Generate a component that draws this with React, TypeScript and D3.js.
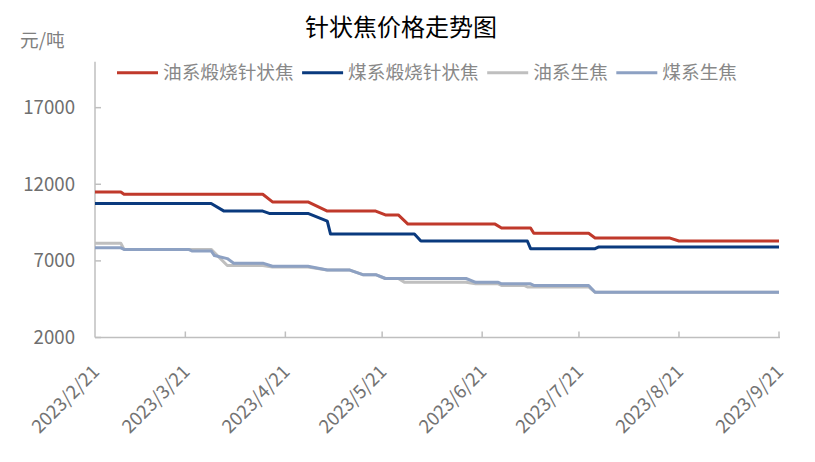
import { useEffect, useRef } from "react";
import * as d3 from "d3";

// series change points (date, price in 元/吨)
const oilNeedleDates = ["2023/2/21", "2023/3/1", "2023/3/2", "2023/4/14", "2023/4/17", "2023/4/28", "2023/5/4", "2023/5/19", "2023/5/22", "2023/5/26", "2023/5/29", "2023/6/25", "2023/6/27", "2023/7/6", "2023/7/7", "2023/7/24", "2023/7/26", "2023/8/18", "2023/8/21", "2023/9/21"];
const oilNeedleValues = [11500, 11500, 11350, 11350, 10850, 10850, 10250, 10250, 10000, 10000, 9400, 9400, 9150, 9150, 8800, 8800, 8500, 8500, 8300, 8300];

const coalNeedleDates = ["2023/2/21", "2023/3/29", "2023/4/2", "2023/4/14", "2023/4/16", "2023/4/28", "2023/5/4", "2023/5/5", "2023/5/31", "2023/6/2", "2023/7/5", "2023/7/6", "2023/7/26", "2023/7/27", "2023/9/21"];
const coalNeedleValues = [10750, 10750, 10250, 10250, 10100, 10100, 9600, 8750, 8750, 8300, 8300, 7800, 7800, 7900, 7900];

const oilGreenDates = ["2023/2/21", "2023/3/1", "2023/3/2", "2023/3/29", "2023/4/3", "2023/4/14", "2023/4/17", "2023/4/28", "2023/5/4", "2023/5/11", "2023/5/15", "2023/5/19", "2023/5/22", "2023/5/26", "2023/5/28", "2023/6/16", "2023/6/19", "2023/6/26", "2023/6/27", "2023/7/4", "2023/7/5", "2023/7/24", "2023/7/26", "2023/9/21"];
const oilGreenValues = [8150, 8150, 7750, 7750, 6700, 6700, 6600, 6600, 6400, 6400, 6100, 6100, 5850, 5850, 5600, 5600, 5500, 5500, 5400, 5400, 5300, 5300, 4950, 4950];

const coalGreenDates = ["2023/2/21", "2023/3/1", "2023/3/2", "2023/3/22", "2023/3/23", "2023/3/29", "2023/3/30", "2023/4/3", "2023/4/5", "2023/4/14", "2023/4/17", "2023/4/28", "2023/5/4", "2023/5/11", "2023/5/15", "2023/5/19", "2023/5/22", "2023/6/16", "2023/6/19", "2023/6/26", "2023/6/27", "2023/7/6", "2023/7/7", "2023/7/24", "2023/7/26", "2023/9/21"];
const coalGreenValues = [7850, 7850, 7750, 7750, 7650, 7650, 7350, 7150, 6850, 6850, 6650, 6650, 6400, 6400, 6100, 6100, 5850, 5850, 5600, 5600, 5500, 5500, 5400, 5400, 4950, 4950];

const seriesNames = ["油系煅烧针状焦", "煤系煅烧针状焦", "油系生焦", "煤系生焦"];
const seriesColors = ["#C0392B", "#0A3A7E", "#BFBFBF", "#8DA1C3"];

const xTickLabels = ["2023/2/21", "2023/3/21", "2023/4/21", "2023/5/21", "2023/6/21", "2023/7/21", "2023/8/21", "2023/9/21"];
const yTicks = [2000, 7000, 12000, 17000];

const parseDate = (s: string) => {
  const [y, m, d] = s.split("/").map(Number);
  return new Date(Date.UTC(y, m - 1, d));
};

const FONT = "'Noto Sans CJK SC', 'Noto Sans', sans-serif";

const App = () => {
  const svgRef = useRef<SVGSVGElement>(null);

  useEffect(() => {
    if (!svgRef.current) return;
    const svg = d3.select(svgRef.current);
    svg.selectAll("*").remove();

    const x = d3
      .scaleUtc()
      .domain([parseDate("2023/2/21"), parseDate("2023/9/21")])
      .range([95, 779]);
    const y = d3.scaleLinear().domain([2000, 20000]).range([337.5, 61.7]);

    const axisColor = "#BFBFBF";

    // title + unit
    svg
      .append("text")
      .attr("x", 401)
      .attr("y", 36)
      .attr("text-anchor", "middle")
      .attr("font-size", 24)
      .attr("fill", "#000")
      .attr("font-family", FONT)
      .text("针状焦价格走势图");

    svg
      .append("text")
      .attr("x", 20)
      .attr("y", 47)
      .attr("font-size", 18.67)
      .attr("fill", "#7F7F7F")
      .attr("font-family", FONT)
      .text("元/吨");

    // axes
    const yAxis = svg.append("g").attr("transform", `translate(${x.range()[0]},0)`);
    yAxis
      .append("line")
      .attr("y1", y.range()[1])
      .attr("y2", y.range()[0])
      .attr("stroke", axisColor)
      .attr("stroke-width", 1.5);
    yTicks.forEach((t) => {
      yAxis
        .append("line")
        .attr("x1", 0)
        .attr("x2", 6)
        .attr("y1", y(t))
        .attr("y2", y(t))
        .attr("stroke", axisColor)
        .attr("stroke-width", 1.5);
      yAxis
        .append("text")
        .attr("x", -20)
        .attr("y", y(t))
        .attr("dy", "0.35em")
        .attr("text-anchor", "end")
        .attr("font-size", 18.67)
        .attr("fill", "#6F6F6F")
        .attr("font-family", FONT)
        .text(t);
    });

    const xAxis = svg.append("g").attr("transform", `translate(0,${y.range()[0]})`);
    xAxis
      .append("line")
      .attr("x1", x.range()[0])
      .attr("x2", x.range()[1] + 1)
      .attr("stroke", axisColor)
      .attr("stroke-width", 1.5);
    xTickLabels.forEach((t, i) => {
      const px = x(parseDate(t));
      if (i > 0) {
        xAxis
          .append("line")
          .attr("x1", px)
          .attr("x2", px)
          .attr("y1", 0)
          .attr("y2", -6)
          .attr("stroke", axisColor)
          .attr("stroke-width", 1.5);
      }
      xAxis
        .append("text")
        .attr("transform", `translate(${px + 1},31) rotate(-45)`)
        .attr("text-anchor", "end")
        .attr("dy", "0.35em")
        .attr("font-size", 18.5)
        .attr("fill", "#737373")
        .attr("font-family", FONT)
        .text(t);
    });

    // lines
    const allDates = [oilNeedleDates, coalNeedleDates, oilGreenDates, coalGreenDates];
    const allValues = [oilNeedleValues, coalNeedleValues, oilGreenValues, coalGreenValues];
    const line = d3
      .line<[Date, number]>()
      .x((d) => x(d[0]))
      .y((d) => y(d[1]));

    allDates.forEach((ds, i) => {
      const pts: [Date, number][] = ds.map((d, j) => [parseDate(d), allValues[i][j]]);
      svg
        .append("path")
        .attr("d", line(pts))
        .attr("fill", "none")
        .attr("stroke", seriesColors[i])
        .attr("stroke-width", 3)
        .attr("stroke-linejoin", "round");
    });

    // legend
    let lx = 117;
    const ly = 72.7;
    seriesNames.forEach((name, i) => {
      svg
        .append("line")
        .attr("x1", lx)
        .attr("x2", lx + 41)
        .attr("y1", ly)
        .attr("y2", ly)
        .attr("stroke", seriesColors[i])
        .attr("stroke-width", 3);
      const txt = svg
        .append("text")
        .attr("x", lx + 46)
        .attr("y", ly)
        .attr("dy", "0.35em")
        .attr("font-size", 18.67)
        .attr("fill", "#888888")
        .attr("font-family", FONT)
        .text(name);
      const w = (txt.node() as SVGTextElement).getComputedTextLength();
      lx = lx + 46 + w + 8.5;
    });
  }, []);

  return (
    <svg
      ref={svgRef}
      width={815}
      height={462}
      style={{ position: "absolute", left: 0, top: 0, background: "#fff" }}
    />
  );
};

export default App;
